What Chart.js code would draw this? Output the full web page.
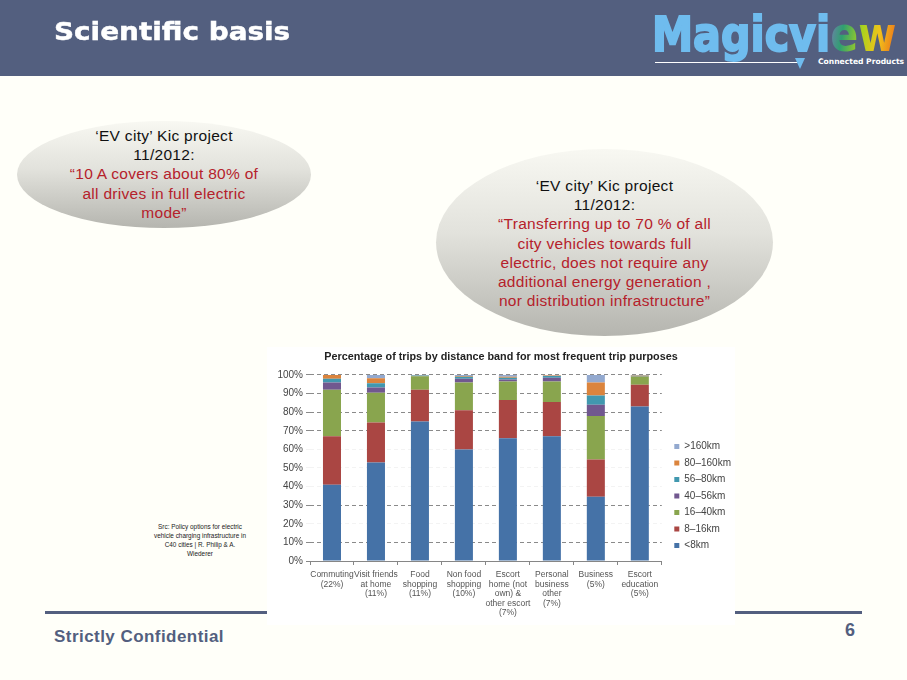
<!DOCTYPE html>
<html>
<head>
<meta charset="utf-8">
<title>Scientific basis</title>
<script src="https://cdn.jsdelivr.net/npm/chart.js@4"></script>
<style>
  html, body { margin: 0; padding: 0; }
  #slide { position: relative; width: 907px; height: 680px; overflow: hidden; background: #fffff9; font-family: "Liberation Sans", Arial, sans-serif; }
  #header { position: absolute; left: 0; top: 0; width: 907px; height: 76px; background: #535f7f; }
  #title { position: absolute; left: 54px; top: 17px; color: #fff; font: bold 25px "DejaVu Sans", sans-serif; white-space: nowrap; transform-origin: 0 0; transform: scaleX(1.115); -webkit-text-stroke: 0.5px #fff; }
  #logo { position: absolute; left: 652px; top: 6px; font: bold 48px "DejaVu Sans", sans-serif; white-space: nowrap; transform-origin: 0 0; transform: scaleX(0.86); color: #6fbcee; -webkit-text-stroke: 2px #6fbcee; }
  #logo span { background: linear-gradient(100deg, #7d78b8 0%, #2f9f70 22%, #a8d21e 48%, #f2c21a 72%, #e8641c 100%); -webkit-background-clip: text; background-clip: text; color: transparent; -webkit-text-stroke: 0; }
  #logoLine { position: absolute; left: 655px; top: 62px; width: 145px; height: 1px; background: #fff; }
  #logoTail { position: absolute; left: 795px; top: 58px; width: 10px; height: 11px; background: #6fbcee; clip-path: polygon(0 0, 100% 0, 50% 100%); }
  #logoSub { position: absolute; left: 818px; top: 57px; color: #fff; font: bold 7.6px "DejaVu Sans", sans-serif; white-space: nowrap; }
  .bubble { position: absolute; border-radius: 50%; background: linear-gradient(#f8f8f2 0%, #e2e2dc 45%, #b5b5af 100%); }
  .bubble div { position: absolute; left: 0; right: 0; text-align: center; font-size: 15.5px; letter-spacing: 0.3px; line-height: 19.2px; color: #111; }
  .bubble .red { color: #b5212b; }
  #src { position: absolute; left: 140px; top: 523px; width: 120px; text-align: center; font-size: 6.4px; line-height: 8.9px; color: #222; }
  .rule { position: absolute; top: 611px; height: 3px; background: #535f7f; }
  #conf { position: absolute; left: 54px; top: 627px; font: bold 17px "Liberation Sans", sans-serif; letter-spacing: 0.45px; color: #535f7f; }
  #page { position: absolute; left: 845px; top: 620px; font: bold 18px "Liberation Sans", sans-serif; color: #535f7f; }
  #chartBox { position: absolute; left: 267px; top: 347px; width: 468px; height: 278px; background: #fff; }
</style>
</head>
<body>
<div id="slide">
  <div id="header"></div>
  <div id="title">Scientific basis</div>
  <div id="logo">Magicvi<span>ew</span></div>
  <div id="logoLine"></div>
  <div id="logoTail"></div>
  <div id="logoSub">Connected Products</div>

  <div class="bubble" style="left:17px;top:121px;width:294px;height:107px">
    <div style="top:5px">‘EV city’ Kic project<br>11/2012:<br><span class="red">“10 A covers about 80% of<br>all drives in full electric<br>mode”</span></div>
  </div>
  <div class="bubble" style="left:436px;top:149px;width:337px;height:187px">
    <div style="top:27px">‘EV city’ Kic project<br>11/2012:<br><span class="red">“Transferring up to 70 % of all<br>city vehicles towards full<br>electric, does not require any<br>additional energy generation ,<br>nor distribution infrastructure”</span></div>
  </div>

  <div id="src">Src: Policy options for electric<br>vehicle charging infrastructure in<br>C40 cities | R. Philip &amp; A.<br>Wiederer</div>

  <div class="rule" style="left:45px;width:223px"></div>
  <div class="rule" style="left:735px;width:127px"></div>
  <div id="conf">Strictly Confidential</div>
  <div id="page">6</div>

  <div id="chartBox"><canvas id="chart" width="468" height="278"></canvas></div>
</div>

<script>
const chartTitle = "Percentage of trips by distance band for most frequent trip purposes";

const categories = [
  ["Commuting", "(22%)"],
  ["Visit friends", "at home", "(11%)"],
  ["Food", "shopping", "(11%)"],
  ["Non food", "shopping", "(10%)"],
  ["Escort", "home (not", "own) &", "other escort", "(7%)"],
  ["Personal", "business", "other", "(7%)"],
  ["Business", "(5%)"],
  ["Escort", "education", "(5%)"],
];

// Share of trips per band
const under8 = [41, 53, 75, 60, 66, 67, 34.5, 83];
const km8to16 = [26, 21.5, 17, 21, 20.5, 18.5, 20, 11.7];
const km16to40 = [25, 16, 7.3, 15, 10, 11, 23.5, 4.5];
const km40to56 = [4, 2.7, 0.2, 2, 1, 2, 6, 0.2];
const km56to80 = [2, 2.3, 0.2, 1, 1, 1, 5, 0.2];
const km80to160 = [2, 2.7, 0.1, 0.5, 0.5, 0.2, 7, 0.2];
const over160 = [0, 1.8, 0.2, 0.5, 1, 0.3, 4, 0.2];

const seriesNames = ["<8km", "8–16km", "16–40km", "40–56km", "56–80km", "80–160km", ">160km"];
const seriesValues = [under8, km8to16, km16to40, km40to56, km56to80, km80to160, over160];
const seriesColors = ["#4572a7", "#aa4643", "#89a54e", "#71588f", "#4198af", "#db843d", "#93a9cf"];

// These gridlines have all but vanished in the reference
const faintTicks = [60, 50, 40, 20];

// Pin the plot and legend to where they sit in the reference
const placeLegend = {
  id: "placeLegend",
  beforeLayout(chart) {
    chart.legend.afterFit = function () { this.width = 75; };
  },
  afterLayout(chart) {
    chart.legend.left += 6;
    chart.legend.top += 10;
    chart.legend.bottom += 10;
  },
};

new Chart(document.getElementById("chart"), {
  type: "bar",
  data: {
    labels: categories,
    datasets: seriesNames.map((name, i) => ({
      label: name,
      data: seriesValues[i],
      backgroundColor: seriesColors[i],
      borderWidth: 0,
      categoryPercentage: 1,
      barPercentage: 0.41,
    })),
  },
  options: {
    responsive: false,
    animation: false,
    layout: { padding: 0 },
    scales: {
      x: {
        stacked: true,
        afterFit(scale) { scale.height = 64; },
        border: { color: "#868686" },
        grid: { drawOnChartArea: false, offset: true, color: "#868686", tickLength: 4 },
        ticks: { color: "#555", font: { family: "Liberation Sans", size: 8.5, lineHeight: 1.12 }, padding: 5, autoSkip: false, maxRotation: 0, minRotation: 0 },
      },
      y: {
        stacked: true,
        min: 0,
        max: 100,
        afterFit(scale) { scale.width = 43; },
        border: { display: false, dash: [4, 3] },
        grid: {
          color: (ctx) => (faintTicks.includes(ctx.tick.value) ? "#f3f3f3" : ctx.tick.value === 0 ? "#868686" : "#8a8a8a"),
          tickLength: 4,
        },
        ticks: { stepSize: 10, color: "#444", font: { family: "Liberation Sans", size: 10 }, padding: 3, callback: (v) => v + "%" },
      },
    },
    plugins: {
      title: {
        display: true,
        text: chartTitle,
        color: "#222",
        font: { family: "Liberation Sans", size: 10.8, weight: "bold" },
        padding: { top: 4, bottom: 11 },
      },
      legend: {
        position: "right",
        reverse: true,
        labels: { boxWidth: 5, boxHeight: 5, padding: 6.5, color: "#444", font: { family: "Liberation Sans", size: 10 } },
      },
      tooltip: { enabled: false },
    },
  },
  plugins: [placeLegend],
});
</script>
</body>
</html>
